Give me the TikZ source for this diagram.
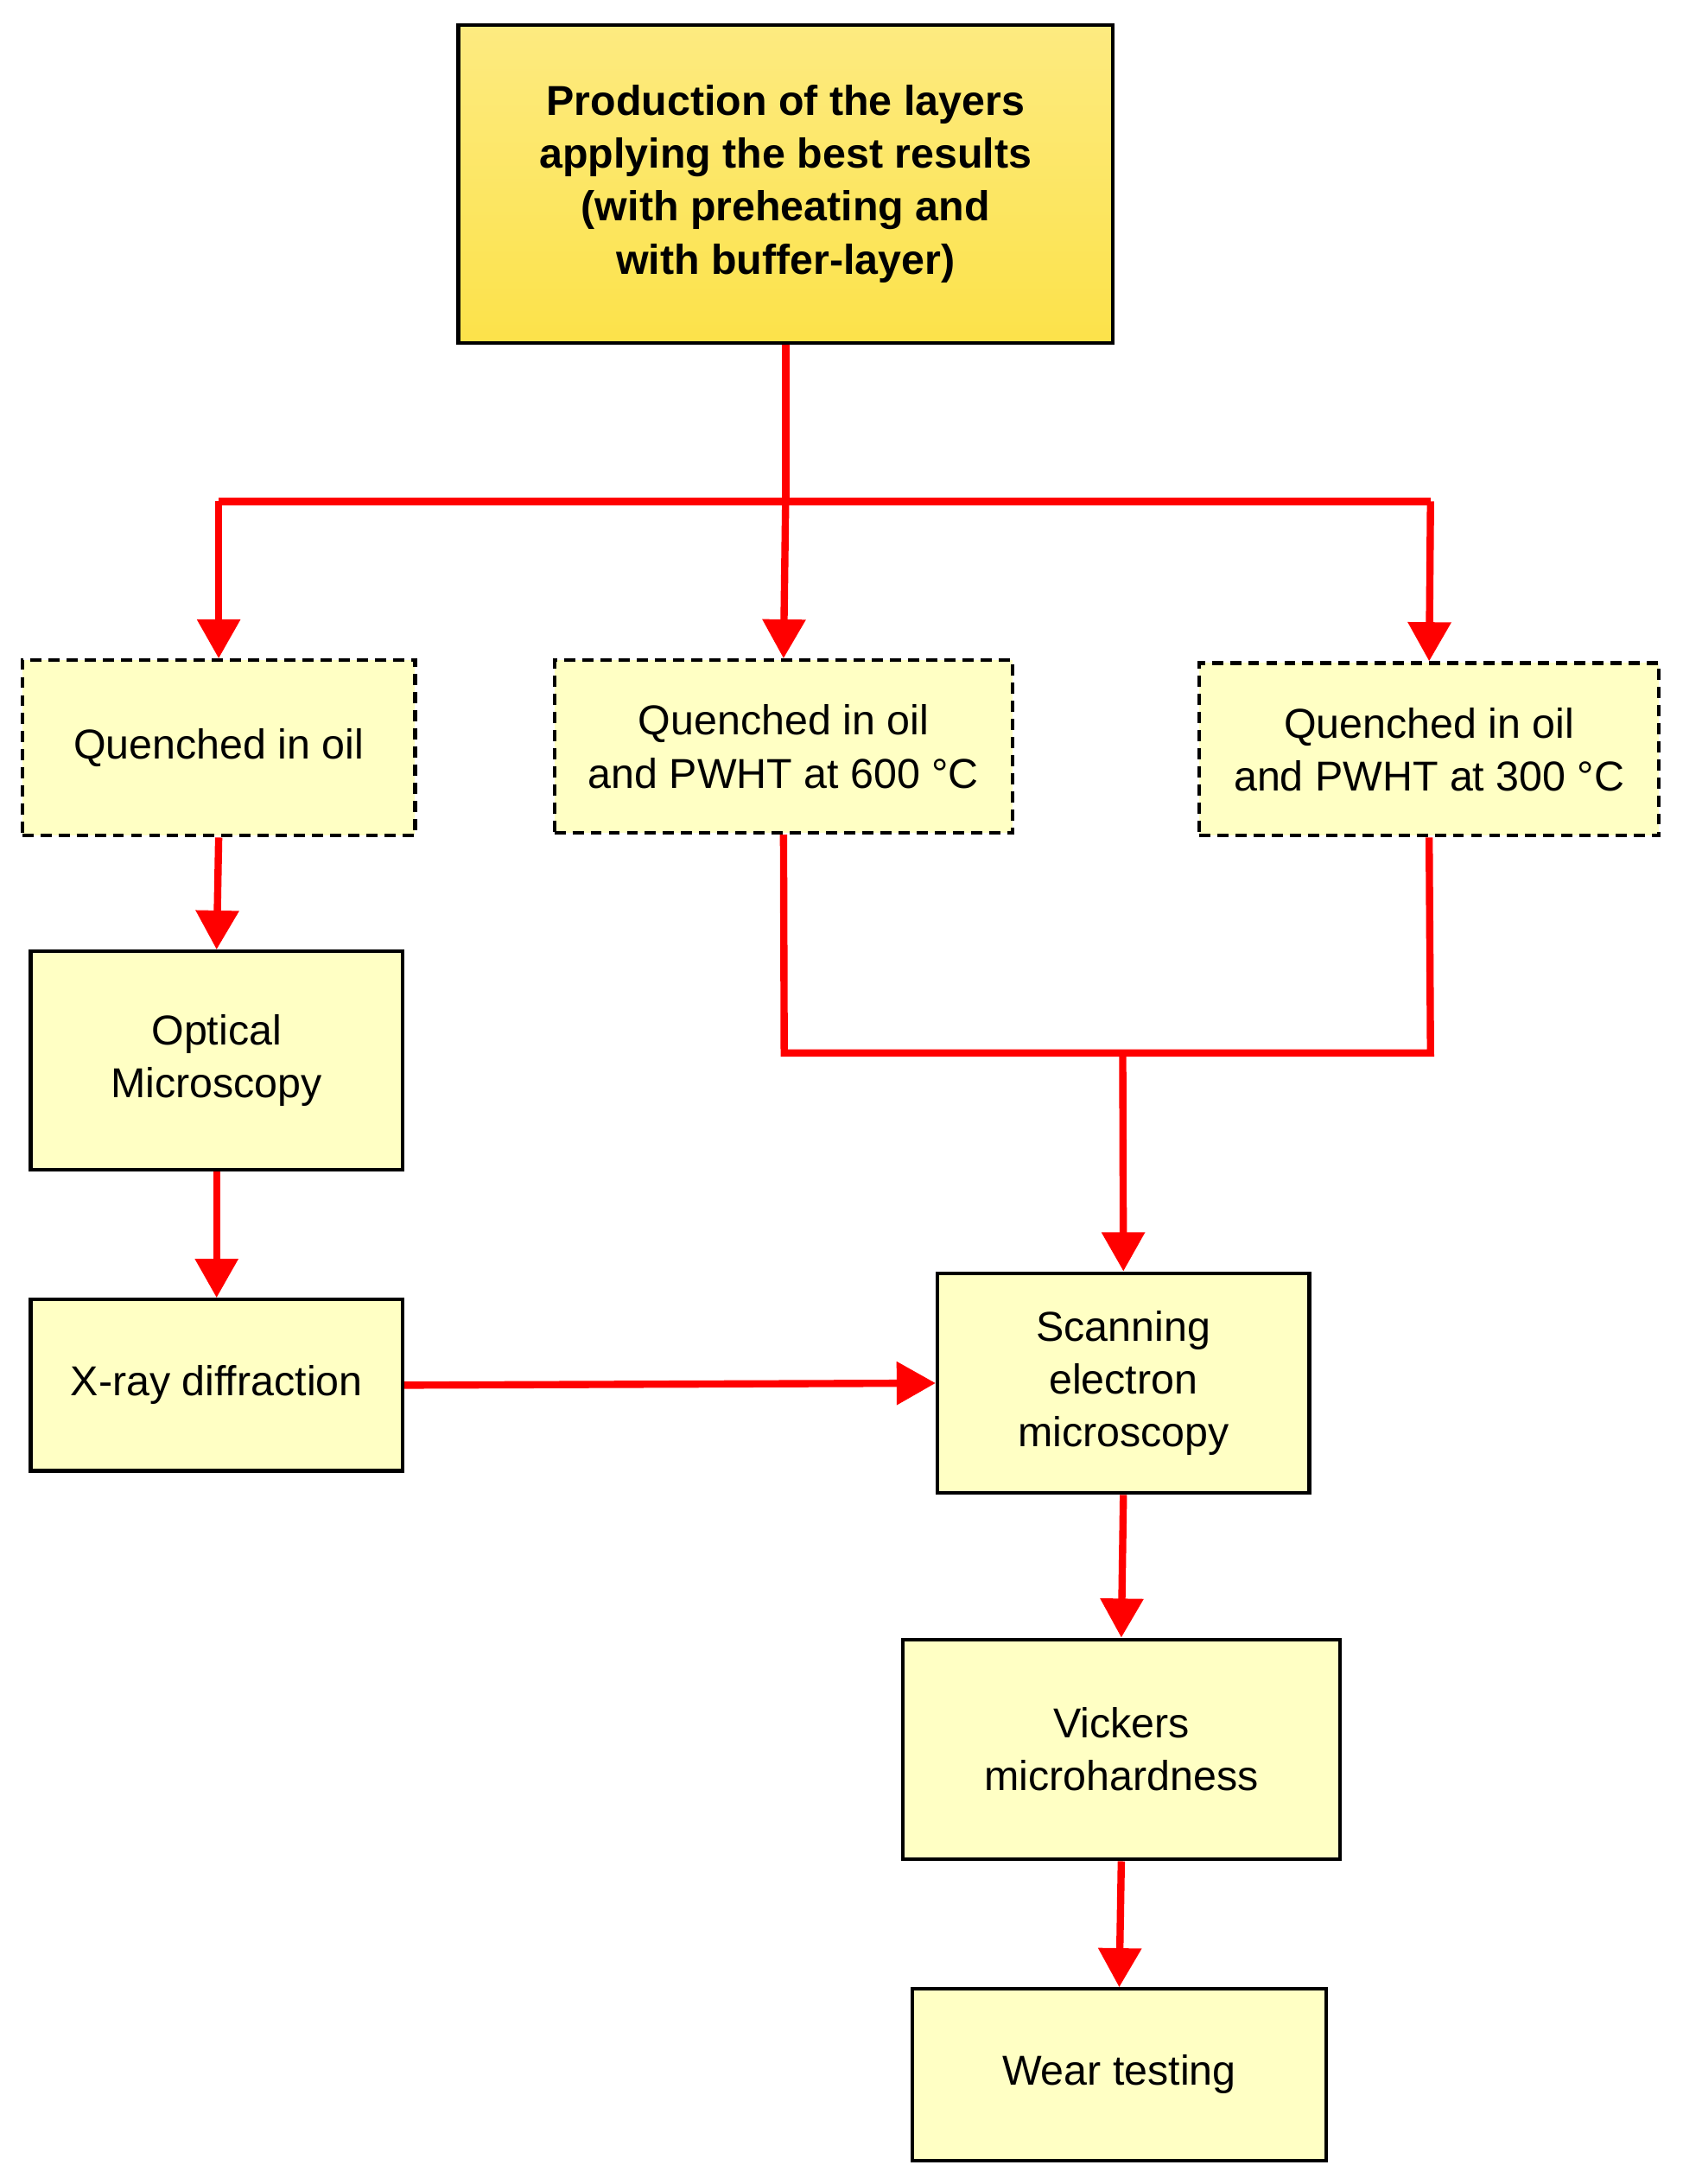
\documentclass[tikz,border=0pt]{standalone}
\usepackage{fontspec}
\setmainfont{Liberation Sans}
\usetikzlibrary{arrows.meta}
\definecolor{boxy}{HTML}{FFFFC4}
\definecolor{topy}{HTML}{FCE24A}
\definecolor{ared}{HTML}{FF0000}
\begin{document}
\begin{tikzpicture}[x=0.5pt,y=-0.5pt,
  box/.style={draw=black,line width=1.3pt,fill=boxy,align=center,font=\fontsize{15}{19}\selectfont},
  dbox/.style={box,dashed,dash pattern=on 4pt off 2.5pt},
  con/.style={draw=ared,line width=2.6pt},
  arr/.style={con,-{Triangle[length=14pt,width=15pt]}}]
\useasboundingbox (0,0) rectangle (1208,1568);
\node[box,font=\bfseries\fontsize{15}{19}\selectfont,top color=topy!70,bottom color=topy,minimum width=235pt,minimum height=114pt] (top) at (564,132) {Production of the layers\\applying the best results\\(with preheating and\\with buffer-layer)};
\node[dbox,minimum width=141pt,minimum height=63pt] (q1) at (157,537) {Quenched in oil};
\node[dbox,minimum width=164.5pt,minimum height=62pt] (q2) at (562.5,536) {Quenched in oil\\and PWHT at 600 °C};
\node[dbox,minimum width=165pt,minimum height=62pt] (q3) at (1026,538) {Quenched in oil\\and PWHT at 300 °C};
\node[box,minimum width=133.5pt,minimum height=78.5pt] (om) at (155.5,761.5) {Optical\\Microscopy};
\node[box,minimum width=133.5pt,minimum height=61.5pt] (xr) at (155.5,994.5) {X-ray diffraction};
\node[box,minimum width=133.5pt,minimum height=79pt] (sem) at (806.5,993) {Scanning\\electron\\microscopy};
\node[box,minimum width=157pt,minimum height=79pt] (vk) at (805,1256) {Vickers\\microhardness};
\node[box,minimum width=148.5pt,minimum height=61.5pt] (wt) at (803.5,1489.5) {Wear testing};
\coordinate (b) at (564,360);
\coordinate (bl) at (157,360);
\coordinate (br) at (1027,360);
\coordinate (ml) at (563,756);
\coordinate (mr) at (1027,756);
\coordinate (mm) at (806,756);
\draw[con] (top.south) -- (b);
\draw[con] (bl) -- (br);
\draw[arr] (bl) -- (q1.north);
\draw[arr] (b) -- (q2.north);
\draw[arr] (br) -- (q3.north);
\draw[con] (q2.south) -- (ml) -- (mr) -- (q3.south);
\draw[arr] (mm) -- (sem.north);
\draw[arr] (q1.south) -- (om.north);
\draw[arr] (om.south) -- (xr.north);
\draw[arr] (xr.east) -- (sem.west);
\draw[arr] (sem.south) -- (vk.north);
\draw[arr] (vk.south) -- (wt.north);
\end{tikzpicture}
\end{document}
